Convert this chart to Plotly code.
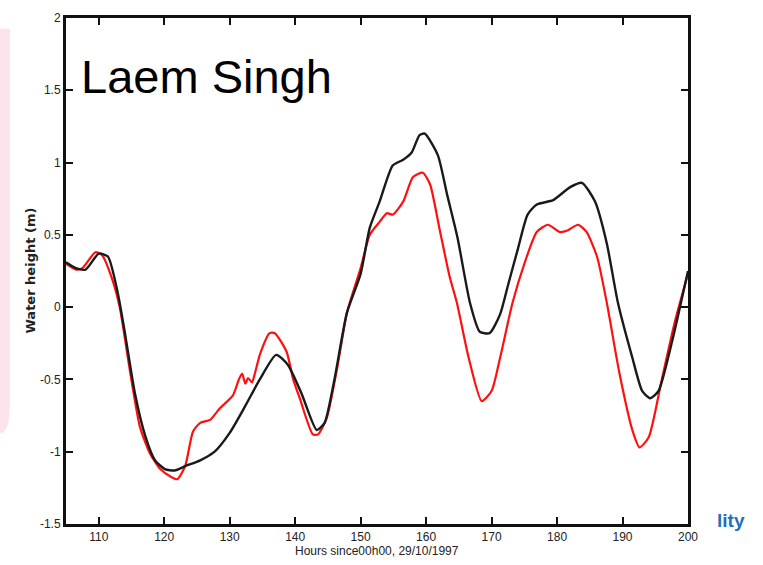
import plotly.graph_objects as go

# Observed (red) and modelled (black) water height, Laem Singh
black_h = [105, 106.5, 108, 110, 111.4, 112.9, 114, 115.5, 117.1, 118.6, 120.1, 121.6, 123.2, 125.5,
           127.7, 130, 132.3, 134.6, 137.1, 138.9, 141, 143.3, 144.5, 146, 147.9, 150, 151.4, 152.9,
           154.9, 156.5, 157.8, 159, 159.8, 161.8, 163.2, 164.8, 166.7, 168.2, 169.7, 171.3, 172.5,
           174, 175.5, 176.9, 179.4, 182, 183.8, 185.8, 187.6, 189.3, 191.5, 193, 194.2, 195.5, 197.5, 200]
black_y = [0.31, 0.27, 0.26, 0.37, 0.35, 0.10, -0.18, -0.59, -0.89, -1.06, -1.12, -1.13, -1.10, -1.06,
           -1.00, -0.87, -0.69, -0.50, -0.33, -0.40, -0.60, -0.85, -0.80, -0.50, -0.04, 0.23, 0.55, 0.73,
           0.98, 1.02, 1.07, 1.19, 1.20, 1.05, 0.78, 0.48, 0.03, -0.17, -0.18, -0.05, 0.15,
           0.40, 0.64, 0.71, 0.74, 0.83, 0.86, 0.73, 0.44, 0.03, -0.35, -0.58, -0.63, -0.58, -0.25, 0.25]

red_h = [105, 106.5, 107.5, 109.5, 110.5, 112, 113.2, 114.8, 116.3, 117.8, 119.4, 120.9, 122, 123.2,
         124.4, 125.5, 127, 128.5, 130.5, 131.4, 131.9, 132.4, 132.8, 133.4, 133.9, 134.6, 136.1, 136.9,
         138.7, 139.7, 140.7, 142.7, 143.5, 144.8, 146.5, 147.9, 150, 151.4, 152.9, 154, 154.9, 156.5,
         158, 159.5, 160.6, 162.1, 163.6, 164.7, 166.5, 168.5, 170, 171.3, 173.2, 175, 176.9, 178.6,
         180.4, 181.6, 183.2, 184.5, 186.1, 187.6, 189.5, 191.5, 192.6, 194, 196, 198, 200]
red_y = [0.30, 0.26, 0.27, 0.38, 0.36, 0.20, 0.0, -0.45, -0.83, -1.01, -1.12, -1.17, -1.19, -1.10,
         -0.86, -0.80, -0.78, -0.70, -0.61, -0.50, -0.46, -0.53, -0.49, -0.52, -0.45, -0.33, -0.18, -0.18,
         -0.31, -0.50, -0.63, -0.88, -0.88, -0.77, -0.40, -0.04, 0.27, 0.50, 0.59, 0.65, 0.64, 0.73,
         0.90, 0.93, 0.85, 0.53, 0.21, 0.03, -0.35, -0.65, -0.58, -0.35, 0.03, 0.30, 0.52, 0.57,
         0.52, 0.53, 0.57, 0.52, 0.35, 0.03, -0.45, -0.85, -0.97, -0.90, -0.50, -0.10, 0.23]

x_ticks = [110, 120, 130, 140, 150, 160, 170, 180, 190, 200]
y_ticks = [-1.5, -1, -0.5, 0, 0.5, 1, 1.5, 2]
y_tick_text = ["-1.5", "-1", "-0.5", "0", "0.5", "1", "1.5", "2"]

fig = go.Figure()
fig.add_trace(go.Scatter(x=red_h, y=red_y, mode="lines",
                         line=dict(color="#ff1010", width=2.2, shape="spline", smoothing=0.6)))
fig.add_trace(go.Scatter(x=black_h, y=black_y, mode="lines",
                         line=dict(color="#1a1a1a", width=2.4, shape="spline", smoothing=0.6)))

tickfont = dict(family="Liberation Sans Narrow, Arial Narrow, Liberation Sans, Arial", size=12, color="#222")
fig.update_xaxes(range=[105, 200], tickvals=x_ticks, showgrid=False, zeroline=False,
                 showline=True, linecolor="#111", linewidth=3, mirror="ticks",
                 ticks="inside", ticklen=7, tickwidth=2, tickcolor="#111", tickfont=tickfont)
fig.update_yaxes(range=[-1.5, 2], tickvals=y_ticks, ticktext=y_tick_text, showgrid=False, zeroline=False,
                 showline=True, linecolor="#111", linewidth=3, mirror="ticks",
                 ticks="inside", ticklen=7, tickwidth=2, tickcolor="#111", tickfont=tickfont)

# pink strip on the left (paper coordinates)
x0, x1 = -66 / 622, (10 - 66) / 622
yb, yc, yt = (524 - 432) / 513, (524 - 400) / 513, (524 - 22) / 513
fig.add_shape(type="path", xref="paper", yref="paper",
              path=f"M {x0},{yt} L {x1},{yt} L {x1},{yc} Q {x1},{yb} {x0},{yb} Z",
              fillcolor="#fde3ea", line=dict(width=0), layer="below")

fig.add_annotation(text="Laem Singh", xref="paper", yref="paper", x=(79 - 66) / 622, y=(524 - 70) / 513,
                   xanchor="left", yanchor="middle", showarrow=False,
                   font=dict(family="Liberation Sans, Arial", size=47, color="#000"))
fig.add_annotation(text="<b>Water height (m)</b>", xref="paper", yref="paper", x=(31 - 66) / 622, y=(524 - 267) / 513,
                   textangle=-90, showarrow=False, xanchor="center", yanchor="middle",
                   font=dict(family="DejaVu Sans", size=13, color="#222"))
fig.add_annotation(text="Hours since00h00, 29/10/1997", xref="paper", yref="paper",
                   x=(377 - 66) / 622, y=(524 - 551) / 513, showarrow=False,
                   xanchor="center", yanchor="middle",
                   font=dict(family="Liberation Sans Narrow, Arial Narrow, Liberation Sans, Arial", size=12, color="#222"))
fig.add_annotation(text="<b>lity</b>", xref="paper", yref="paper", x=(715 - 66) / 622, y=(524 - 520) / 513,
                   showarrow=False, xanchor="left", yanchor="middle",
                   font=dict(family="Liberation Sans, Arial", size=19, color="#1f6fc0"))

fig.update_layout(width=763, height=565, margin=dict(l=66, r=75, t=11, b=41),
                  paper_bgcolor="white", plot_bgcolor="white", showlegend=False)

fig.write_html("out.html")
